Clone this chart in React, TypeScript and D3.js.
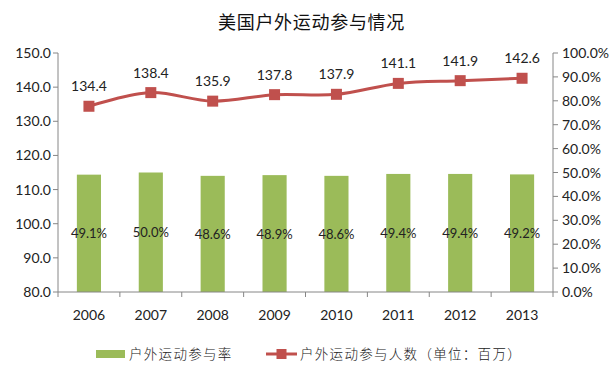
import { useEffect, useRef } from 'react';
import * as d3 from 'd3';

const years = ['2006', '2007', '2008', '2009', '2010', '2011', '2012', '2013'];
const participants = [134.4, 138.4, 135.9, 137.8, 137.9, 141.1, 141.9, 142.6];
const rates = [49.1, 50.0, 48.6, 48.9, 48.6, 49.4, 49.4, 49.2];
const leftTicks = [80, 90, 100, 110, 120, 130, 140, 150];
const rightTicks = [0, 10, 20, 30, 40, 50, 60, 70, 80, 90, 100];

const W = 613;
const H = 369;
const FONT = 'Lato, "Open Sans", "Noto Sans CJK SC", sans-serif';
const CJK = '"Noto Sans CJK SC", sans-serif';

export default function App() {
  const svgRef = useRef<SVGSVGElement>(null);

  useEffect(() => {
    if (!svgRef.current) return;
    const svg = d3.select(svgRef.current);
    svg.selectAll('*').remove();

    const left = 58, right = 553, top = 53, bottom = 292;
    const x = d3.scaleBand().domain(years).range([left, right]);
    const yL = d3.scaleLinear().domain([80, 150]).range([bottom, top]);
    const yR = d3.scaleLinear().domain([0, 100]).range([bottom, top]);
    const axisColor = '#868686';

    svg.append('text')
      .attr('x', W / 2 + 5).attr('y', 29)
      .attr('text-anchor', 'middle')
      .style('font-family', CJK).style('font-size', '18px').style('font-weight', 400)
      .style('letter-spacing', '0.7px').style('fill', '#111')
      .text('美国户外运动参与情况');

    // bars
    const barW = x.bandwidth() * 0.39;
    svg.append('g').selectAll('rect')
      .data(rates)
      .enter().append('rect')
      .attr('x', (_, i) => x(years[i])! + x.bandwidth() / 2 - barW / 2)
      .attr('y', d => yR(d))
      .attr('width', barW)
      .attr('height', d => bottom - yR(d))
      .style('fill', '#9BBB59');

    svg.append('g').selectAll('text')
      .data(rates)
      .enter().append('text')
      .attr('x', (_, i) => x(years[i])! + x.bandwidth() / 2)
      .attr('y', d => (yR(d) + bottom) / 2 + 5)
      .attr('text-anchor', 'middle')
      .style('font-family', FONT).style('font-size', '13px').style('fill', '#222')
      .text(d => d.toFixed(1) + '%');

    // left axis
    const gl = svg.append('g');
    gl.append('line').attr('x1', left).attr('x2', left).attr('y1', top).attr('y2', bottom)
      .style('stroke', axisColor);
    leftTicks.forEach(t => {
      gl.append('line').attr('x1', left - 5).attr('x2', left).attr('y1', yL(t)).attr('y2', yL(t))
        .style('stroke', axisColor);
      gl.append('text').attr('x', left - 7).attr('y', yL(t) + 5)
        .attr('text-anchor', 'end')
        .style('font-family', FONT).style('font-size', '14px').style('fill', '#222')
        .text(t.toFixed(1));
    });

    // right axis
    const gr = svg.append('g');
    gr.append('line').attr('x1', right).attr('x2', right).attr('y1', top).attr('y2', bottom)
      .style('stroke', axisColor);
    rightTicks.forEach(t => {
      gr.append('line').attr('x1', right).attr('x2', right + 5).attr('y1', yR(t)).attr('y2', yR(t))
        .style('stroke', axisColor);
      gr.append('text').attr('x', right + 9).attr('y', yR(t) + 5)
        .attr('text-anchor', 'start')
        .style('font-family', FONT).style('font-size', '14px').style('fill', '#222')
        .text(t.toFixed(1) + '%');
    });

    // bottom axis
    const gb = svg.append('g');
    gb.append('line').attr('x1', left).attr('x2', right).attr('y1', bottom).attr('y2', bottom)
      .style('stroke', axisColor);
    years.forEach((yr, i) => {
      const bx = x(yr)!;
      gb.append('line').attr('x1', bx).attr('x2', bx).attr('y1', bottom).attr('y2', bottom + 5)
        .style('stroke', axisColor);
      if (i === years.length - 1) {
        gb.append('line').attr('x1', right).attr('x2', right).attr('y1', bottom).attr('y2', bottom + 5)
          .style('stroke', axisColor);
      }
      gb.append('text').attr('x', bx + x.bandwidth() / 2).attr('y', bottom + 28)
        .attr('text-anchor', 'middle')
        .style('font-family', FONT).style('font-size', '14px').style('fill', '#222')
        .text(yr);
    });

    // line
    const pts: [number, number][] = participants.map((v, i) => [x(years[i])! + x.bandwidth() / 2, yL(v)]);
    const line = d3.line().curve(d3.curveCatmullRom.alpha(0.5));
    svg.append('path').attr('d', line(pts))
      .style('fill', 'none').style('stroke', '#C0504D').style('stroke-width', 3);
    svg.append('g').selectAll('rect')
      .data(pts)
      .enter().append('rect')
      .attr('x', d => d[0] - 5.5).attr('y', d => d[1] - 5.5)
      .attr('width', 11).attr('height', 11)
      .style('fill', '#C0504D');
    svg.append('g').selectAll('text')
      .data(participants)
      .enter().append('text')
      .attr('x', (_, i) => pts[i][0])
      .attr('y', (_, i) => pts[i][1] - 15)
      .attr('text-anchor', 'middle')
      .style('font-family', FONT).style('font-size', '14px').style('fill', '#222')
      .text(d => d.toFixed(1));

    // legend
    const ly = 354;
    const lg = svg.append('g');
    lg.append('rect').attr('x', 96).attr('y', ly - 4).attr('width', 29).attr('height', 8)
      .style('fill', '#9BBB59');
    lg.append('text').attr('x', 129).attr('y', ly + 5)
      .style('font-family', CJK).style('font-size', '13.5px').style('font-weight', 300)
      .style('letter-spacing', '1.3px').style('fill', '#222')
      .text('户外运动参与率');
    lg.append('line').attr('x1', 266).attr('x2', 297).attr('y1', ly).attr('y2', ly)
      .style('stroke', '#C0504D').style('stroke-width', 3);
    lg.append('rect').attr('x', 281.5 - 5).attr('y', ly - 5).attr('width', 10).attr('height', 10)
      .style('fill', '#C0504D');
    lg.append('text').attr('x', 300).attr('y', ly + 5)
      .style('font-family', CJK).style('font-size', '13.5px').style('font-weight', 300)
      .style('letter-spacing', '1.3px').style('fill', '#222')
      .text('户外运动参与人数（单位：百万）');
  }, []);

  return (
    <svg ref={svgRef} width={W} height={H}
      style={{ position: 'absolute', left: 0, top: 0, background: '#fff' }} />
  );
}
